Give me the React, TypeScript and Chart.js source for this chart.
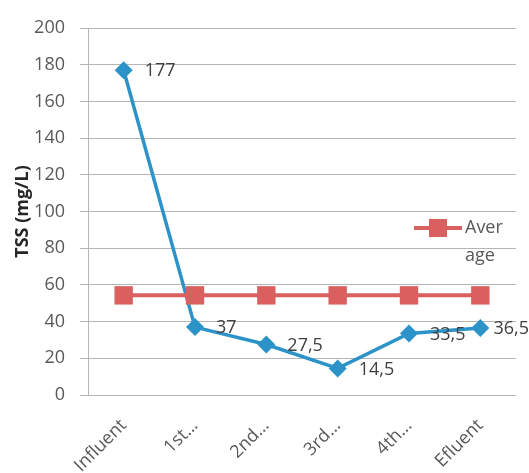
import React, { useEffect, useRef } from "react";
import { Chart, registerables } from "chart.js";

Chart.register(...registerables);

const categories = ["Influent", "1st\u2026", "2nd\u2026", "3rd\u2026", "4th\u2026", "Efluent"];
const tssValues = [177, 37, 27.5, 14.5, 33.5, 36.5];
const averageValues = [54.3, 54.3, 54.3, 54.3, 54.3, 54.3];
const legendLines = ["Aver", "age"];
const yTitle = "TSS (mg/L)";

const BLUE = "#2b93c8";
const RED = "#d9605e";
const TEXT = "#595959";
const GRID = "#b5b5b5";
const FONT = "'Open Sans', 'Liberation Sans', sans-serif";

const overlayPlugin = {
  id: "overlay",
  afterDatasetsDraw(chart: any) {
    const ctx = chart.ctx;
    const area = chart.chartArea;
    ctx.save();
    const meta = chart.getDatasetMeta(1);
    ctx.font = `18px ${FONT}`;
    ctx.fillStyle = "#404040";
    ctx.textAlign = "left";
    ctx.textBaseline = "middle";
    meta.data.forEach((pt: any, i: number) => {
      const txt = String(tssValues[i]).replace(".", ",");
      const w = ctx.measureText(txt).width;
      const x = Math.min(pt.x + 21, chart.width - w);
      ctx.fillText(txt, x, pt.y + 1);
    });
    const lx = area.right - 102;
    const ly = area.top + 200;
    ctx.strokeStyle = RED;
    ctx.lineWidth = 4;
    ctx.beginPath();
    ctx.moveTo(lx, ly);
    ctx.lineTo(lx + 48, ly);
    ctx.stroke();
    ctx.fillStyle = RED;
    ctx.fillRect(lx + 15, ly - 9, 18, 18);
    ctx.fillStyle = TEXT;
    ctx.font = `18px ${FONT}`;
    ctx.fillText(legendLines[0], lx + 51, ly);
    ctx.fillText(legendLines[1], lx + 51, ly + 28);
    ctx.restore();
  },
};

const noPad = () => ({ left: 0, right: 0, top: 0, bottom: 0 });

export default function App() {
  const ref = useRef<HTMLCanvasElement>(null);
  useEffect(() => {
    document.body.style.margin = "0";
    const chart = new Chart(ref.current as HTMLCanvasElement, {
      type: "line",
      data: {
        labels: categories,
        datasets: [
          {
            label: "Average",
            data: averageValues,
            borderColor: RED,
            backgroundColor: RED,
            borderWidth: 4,
            pointStyle: "rect",
            pointRadius: 13,
            pointHoverRadius: 13,
            pointBorderWidth: 0,
            order: 0,
          },
          {
            label: "TSS",
            data: tssValues,
            borderColor: BLUE,
            backgroundColor: BLUE,
            borderWidth: 3.5,
            pointStyle: "rectRot",
            pointRadius: 9,
            pointHoverRadius: 9,
            pointBorderWidth: 0,
            tension: 0,
            order: 1,
          },
        ],
      },
      options: {
        animation: false,
        responsive: false,
        maintainAspectRatio: false,
        layout: { padding: { top: 28, right: 9, left: 0, bottom: 0 } },
        plugins: {
          legend: { display: false },
          tooltip: { enabled: false },
        },
        scales: {
          x: {
            offset: true,
            grid: { display: false },
            border: { display: false },
            ticks: {
              minRotation: 45,
              maxRotation: 45,
              autoSkip: false,
              color: TEXT,
              font: { size: 18, family: FONT },
              padding: 12,
            },
            afterFit(scale: any) {
              scale.height = 78;
              scale.paddingRight = 0;
              scale.paddingLeft = 0;
              scale.getPadding = noPad;
            },
          },
          y: {
            min: 0,
            max: 200,
            ticks: {
              stepSize: 20,
              color: TEXT,
              font: { size: 18, family: FONT },
              padding: 15,
            },
            grid: { color: GRID, lineWidth: 1, tickLength: 8 },
            border: { color: GRID, width: 1 },
            title: {
              display: true,
              text: yTitle,
              color: "#262626",
              font: { size: 18, family: FONT, weight: "bold" },
              padding: { top: 12, bottom: 0 },
            },
            afterFit(scale: any) {
              scale.width = 88;
              scale.paddingTop = 0;
              scale.paddingBottom = 0;
              scale.getPadding = noPad;
            },
          },
        },
      },
      plugins: [overlayPlugin],
    });
    return () => chart.destroy();
  }, []);
  return <canvas ref={ref} width={529} height={473} style={{ display: "block" }} />;
}
